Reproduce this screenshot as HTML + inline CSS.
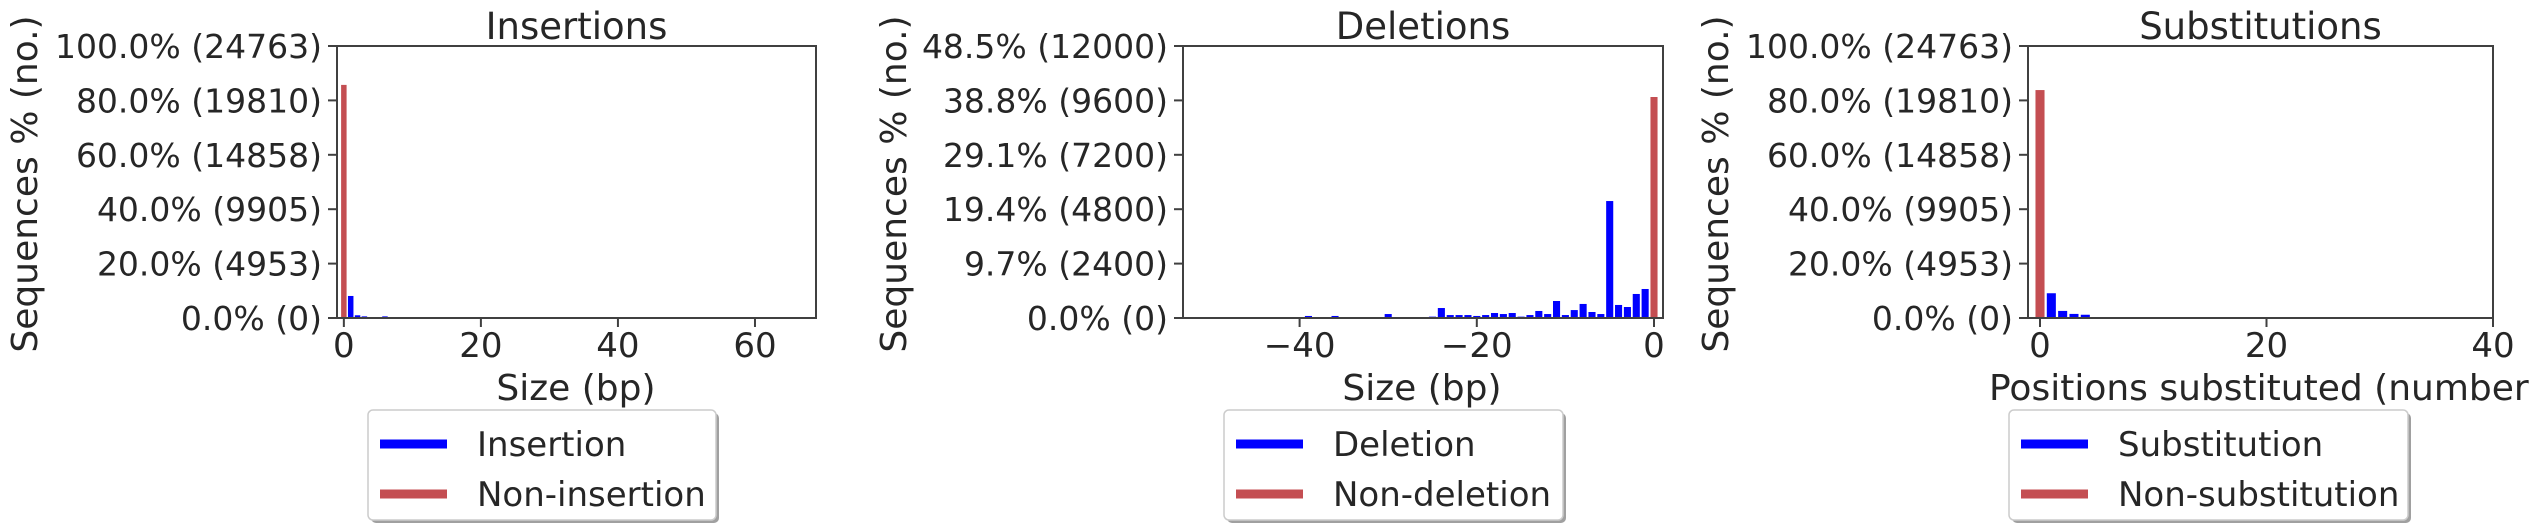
<!DOCTYPE html>
<html><head><meta charset="utf-8"><style>
html,body{margin:0;padding:0;background:#fff;}
svg{display:block;font-family:"DejaVu Sans","Liberation Sans",sans-serif;}
</style></head><body>
<svg id="chart" width="2540" height="529" viewBox="0 0 2540 529" xmlns="http://www.w3.org/2000/svg"></svg>
<script>
const insCategories=[1,2,3,4,5,6,7,8,9,10,11,12,13,14];
const insValues=[8.1,1.0,0.6,0.2,0.2,0.6,0.2,0.2,0.2,0.2,0.2,0.2,0.2,0.2];
const insRefValue=85.7;
const insYTicks=[0,20,40,60,80,100];
const insYLabels=["0.0% (0)","20.0% (4953)","40.0% (9905)","60.0% (14858)","80.0% (19810)","100.0% (24763)"];
const insXTicks=[0,20,40,60];

const delCategories=[-1,-2,-3,-4,-5,-6,-7,-8,-9,-10,-11,-12,-13,-14,-15,-16,-17,-18,-19,-20,-21,-22,-23,-24,-25,-26,-27,-28,-29,-30,-31,-32,-33,-34,-36,-39,-42,-45,-51];
const delValues=[1280,1060,485,575,5160,175,265,620,350,130,750,175,310,130,60,220,175,220,130,90,130,130,130,440,60,15,15,15,15,175,15,15,15,15,90,90,15,15,15];
const delRefValue=9750;
const delYTicks=[0,2400,4800,7200,9600,12000];
const delYLabels=["0.0% (0)","9.7% (2400)","19.4% (4800)","29.1% (7200)","38.8% (9600)","48.5% (12000)"];
const delXTicks=[-40,-20,0];

const subCategories=[1,2,3,4,5,6];
const subValues=[9.1,2.6,1.5,1.2,0.2,0.2];
const subRefValue=83.8;
const subYTicks=[0,20,40,60,80,100];
const subYLabels=["0.0% (0)","20.0% (4953)","40.0% (9905)","60.0% (14858)","80.0% (19810)","100.0% (24763)"];
const subXTicks=[0,20,40];

const NS="http://www.w3.org/2000/svg";
const svg=document.getElementById('chart');
function el(tag,attrs,parent,text){const e=document.createElementNS(NS,tag);for(const k in attrs)e.setAttribute(k,attrs[k]);if(text!==undefined)e.textContent=text;(parent||svg).appendChild(e);return e;}

function panel(cfg){
  const g=el('g',{});
  
  
  const top=46,bottom=318;
  const xs=v=>cfg.px0+(v-cfg.xmin)*(cfg.px1-cfg.px0)/(cfg.xmax-cfg.xmin);
  const ys=v=>bottom-(v/cfg.ymax)*(bottom-top);
  const bw=Math.abs(xs(0.8)-xs(0));
  cfg.cats.forEach((c,i)=>{
    const r=el('rect',{x:xs(c)-bw/2,y:ys(cfg.vals[i]),width:bw,height:bottom-ys(cfg.vals[i]),fill:'#0000ff'},g);
    
    
  });
  const rr=el('rect',{x:xs(0)-bw/2,y:ys(cfg.ref),width:bw,height:bottom-ys(cfg.ref),fill:'#c44e52'},g);
  
  
  const frame=el('rect',{x:cfg.px0,y:top,width:cfg.px1-cfg.px0,height:bottom-top,fill:'none',stroke:'#404040','stroke-width':2},g);
  
  
  cfg.yTicks.forEach((t,i)=>{
    el('line',{x1:cfg.px0-9,x2:cfg.px0,y1:ys(t),y2:ys(t),stroke:'#404040','stroke-width':2},g);
    const tx=el('text',{x:cfg.px0-15,y:ys(t)+12,'text-anchor':'end','font-size':33,fill:'#262626'},g,cfg.yLabels[i]);
    
    
  });
  cfg.xTicks.forEach(t=>{
    el('line',{x1:xs(t),x2:xs(t),y1:bottom,y2:bottom+9,stroke:'#404040','stroke-width':2},g);
    const tx=el('text',{x:xs(t),y:357,'text-anchor':'middle','font-size':34,fill:'#262626'},g,String(t).replace('-','\u2212'));
    
    
  });
  const ti=el('text',{x:(cfg.px0+cfg.px1)/2,y:39,'text-anchor':'middle','font-size':37,fill:'#262626'},g,cfg.title);
  
  
  const xl=el('text',{x:cfg.xlabelX,y:400,'text-anchor':cfg.xlabelAnchor,'font-size':36,fill:'#262626'},g,cfg.xlabel);
  
  
  const yl=el('text',{x:0,y:0,'text-anchor':'middle','font-size':36,fill:'#262626',transform:'translate('+(cfg.ylabelX)+',184) rotate(-90)'},g,'Sequences % (no.)');
  
  
  const lg=el('g',{},g);
  
  
  el('rect',{x:cfg.lx0+3,y:413,width:cfg.lx1-cfg.lx0,height:110,rx:5,fill:'#a0a0a0'},lg);
  el('rect',{x:cfg.lx0,y:410,width:cfg.lx1-cfg.lx0,height:110,rx:5,fill:'#fff',stroke:'#cccccc','stroke-width':1.5},lg);
  [[cfg.leg[0],'#0000ff',444],[cfg.leg[1],'#c44e52',494]].forEach(([lab,col,yy])=>{
    el('rect',{x:cfg.lx0+12,y:yy-4.5,width:67,height:9,fill:col},lg);
    const t=el('text',{x:cfg.lx0+109,y:yy+12,'font-size':34,fill:'#262626'},lg,lab);
    
    
  });
}

panel({name:'insertions',title:'Insertions',px0:337,px1:816,xmin:-1,xmax:(816-344)/6.85,ymax:100,
  cats:insCategories,vals:insValues,ref:insRefValue,yTicks:insYTicks,yLabels:insYLabels,xTicks:insXTicks,
  xlabel:'Size (bp)',xlabelX:576,xlabelAnchor:'middle',ylabelX:37,lx0:368,lx1:716,leg:['Insertion','Non-insertion']});
panel({name:'deletions',title:'Deletions',px0:1183,px1:1663,xmin:(1183-1654)/8.86,xmax:(1663-1654)/8.86,ymax:12000,
  cats:delCategories,vals:delValues,ref:delRefValue,yTicks:delYTicks,yLabels:delYLabels,xTicks:delXTicks,
  xlabel:'Size (bp)',xlabelX:1422,xlabelAnchor:'middle',ylabelX:906,lx0:1224,lx1:1563,leg:['Deletion','Non-deletion']});
panel({name:'substitutions',title:'Substitutions',px0:2028,px1:2493,xmin:(2028-2040)/11.32,xmax:40,ymax:100,
  cats:subCategories,vals:subValues,ref:subRefValue,yTicks:subYTicks,yLabels:subYLabels,xTicks:subXTicks,
  xlabel:'Positions substituted (number of positions)',xlabelX:1989,xlabelAnchor:'start',ylabelX:1728,lx0:2009,lx1:2408,leg:['Substitution','Non-substitution']});
</script>
</body></html>
